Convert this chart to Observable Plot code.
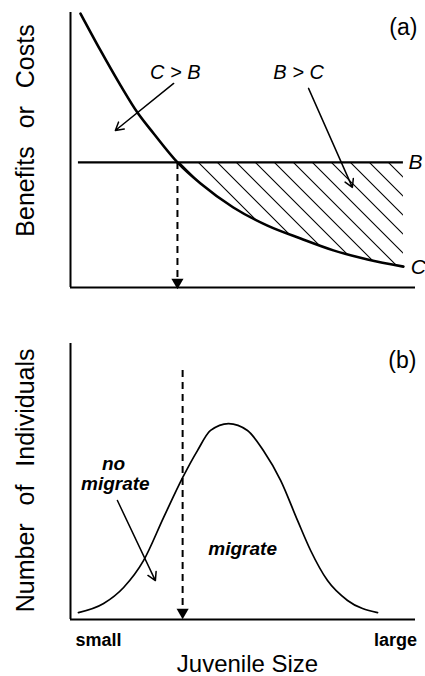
<!DOCTYPE html>
<html>
<head>
<meta charset="utf-8">
<script src="https://cdn.jsdelivr.net/npm/d3@7"></script>
<script src="https://cdn.jsdelivr.net/npm/@observablehq/plot@0.6"></script>
<style>
  html, body { margin: 0; padding: 0; background: #fff; }
  #chart { width: 425px; height: 676px; position: relative; }
  #chart svg { display: block; }
</style>
</head>
<body>
<div id="chart"></div>
<script>
// ---- Panel (a): benefits vs costs of migrating, by juvenile size ----
const sizeC = [2.9, 8.7, 14.5, 19.4, 24.1, 31.0, 37.7, 47.2, 57.1, 66.7, 76.2, 86.1, 96.5];
const costC = [99.6, 86.2, 73.5, 63.6, 56.0, 45.5, 37.8, 29.1, 22.5, 17.8, 13.5, 10.2, 7.6];
const benefitB = 45.5;
const benefitSpan = [2.3, 96.5];
const thresholdA = 31.0;

// ---- Panel (b): size distribution of juveniles ----
const sizeN = [2.3, 9.6, 15.4, 21.2, 27.0, 32.5, 36.8, 40.6, 45.8, 51.3, 55.9, 60.9, 65.8, 69.6, 74.5, 80.3, 89.0];
const countN = [2.5, 5.8, 11.6, 21.4, 37.0, 51.4, 61.2, 68.5, 71.0, 68.5, 61.2, 50.4, 35.9, 25.0, 14.1, 6.9, 2.5];
const thresholdB = 32.5;

// ---- Text ----
const yTitleA = "Benefits or Costs";
const yTitleB = "Number of Individuals";
const xTitle = "Juvenile Size";
const xEndLabels = ["small", "large"];
const panelLabels = ["(a)", "(b)"];

const costRows = sizeC.map((s, i) => ({size: s, cost: costC[i], benefit: benefitB}));
const hatchRows = costRows.filter(d => d.size >= thresholdA);
const countRows = sizeN.map((s, i) => ({size: s, count: countN[i]}));

const FONT = "'Liberation Sans', Arial, Helvetica, sans-serif";

const plotA = Plot.plot({
  width: 425, height: 300,
  marginLeft: 70, marginRight: 10, marginTop: 12, marginBottom: 13,
  x: {domain: [0, 100], axis: null},
  y: {domain: [0, 100], axis: null},
  style: {fontFamily: FONT, background: "#fff", color: "#000", overflow: "visible"},
  marks: [
    Plot.areaY(hatchRows, {x: "size", y1: "cost", y2: "benefit", fill: "url(#hatch)", curve: "monotone-x"}),
    Plot.ruleX([0], {y1: 0, y2: 100, stroke: "#000", strokeWidth: 2}),
    Plot.ruleY([0], {x1: 0, x2: 100, stroke: "#000", strokeWidth: 2}),
    Plot.ruleY([benefitB], {x1: benefitSpan[0], x2: benefitSpan[1], stroke: "#000", strokeWidth: 2.2}),
    Plot.line(costRows, {x: "size", y: "cost", stroke: "#000", strokeWidth: 2.6, curve: "monotone-x"}),
    Plot.ruleX([thresholdA], {y1: benefitB, y2: 3, stroke: "#000", strokeWidth: 2, strokeDasharray: "7,5"}),
    Plot.dot([thresholdA], {x: d => d, y: 1.9, symbol: "triangle", rotate: 180, r: 4.5, fill: "#000", stroke: null}),
    Plot.arrow([0], {x1: 29.9, y1: 74.2, x2: 13.0, y2: 57.1, stroke: "#000", strokeWidth: 1.5, headLength: 9}),
    Plot.arrow([0], {x1: 69.0, y1: 72.4, x2: 81.7, y2: 36.4, stroke: "#000", strokeWidth: 1.5, headLength: 9}),
    Plot.text(["C > B"], {x: 30.4, y: 78.3, fontSize: 20, fontStyle: "italic", fill: "#000"}),
    Plot.text(["B > C"], {x: 66.1, y: 78.3, fontSize: 20, fontStyle: "italic", fill: "#000"}),
    Plot.text(["B"], {x: 98.0, y: benefitB, fontSize: 21, fontStyle: "italic", textAnchor: "start", fill: "#000"}),
    Plot.text(["C"], {x: 98.6, y: 7.3, fontSize: 21, fontStyle: "italic", textAnchor: "start", fill: "#000"}),
    Plot.text([panelLabels[0]], {x: 96.5, y: 94.5, fontSize: 23, fill: "#000"}),
    Plot.text([yTitleA], {y: 57.1, frameAnchor: "left", dx: -37, rotate: -90, fontSize: 25, textAnchor: "middle", lineAnchor: "bottom", fill: "#000"})
  ]
});

const plotB = Plot.plot({
  width: 425, height: 376,
  marginLeft: 70, marginRight: 10, marginTop: 43, marginBottom: 57,
  x: {domain: [0, 100], axis: null},
  y: {domain: [0, 100], axis: null},
  style: {fontFamily: FONT, background: "#fff", color: "#000", overflow: "visible"},
  marks: [
    Plot.ruleX([0], {y1: 0, y2: 100, stroke: "#000", strokeWidth: 2}),
    Plot.ruleY([0], {x1: 0, x2: 100, stroke: "#000", strokeWidth: 2}),
    Plot.line(countRows, {x: "size", y: "count", stroke: "#000", strokeWidth: 1.7, curve: "monotone-x"}),
    Plot.ruleX([thresholdB], {y1: 90.2, y2: 4.5, stroke: "#000", strokeWidth: 2, strokeDasharray: "7,5"}),
    Plot.dot([thresholdB], {x: d => d, y: 2.6, symbol: "triangle", rotate: 180, r: 4.5, fill: "#000", stroke: null}),
    Plot.arrow([0], {x1: 13.6, y1: 43.1, x2: 24.6, y2: 14.1, stroke: "#000", strokeWidth: 1.5, headLength: 9}),
    Plot.text(["no"], {x: 12.5, y: 56.3, fontSize: 19, fontStyle: "italic", fontWeight: "bold", fill: "#000"}),
    Plot.text(["migrate"], {x: 13.0, y: 49.3, fontSize: 19, fontStyle: "italic", fontWeight: "bold", fill: "#000"}),
    Plot.text(["migrate"], {x: 49.9, y: 25.7, fontSize: 19, fontStyle: "italic", fontWeight: "bold", fill: "#000"}),
    Plot.text([panelLabels[1]], {x: 96.2, y: 93.8, fontSize: 23, fill: "#000"}),
    Plot.text([xEndLabels[0]], {x: 8.1, y: -7.6, fontSize: 18, fontWeight: "bold", fill: "#000"}),
    Plot.text([xEndLabels[1]], {x: 94.2, y: -7.6, fontSize: 18, fontWeight: "bold", fill: "#000"}),
    Plot.text([xTitle], {x: 51.3, y: -16.3, fontSize: 24, fill: "#000"}),
    Plot.text([yTitleB], {y: 50.4, frameAnchor: "left", dx: -37, rotate: -90, fontSize: 25, textAnchor: "middle", lineAnchor: "bottom", fill: "#000"})
  ]
});

// hatch pattern for the B > C region
const defs = d3.select(plotA).insert("defs", ":first-child");
const pat = defs.append("pattern")
  .attr("id", "hatch")
  .attr("patternUnits", "userSpaceOnUse")
  .attr("width", 19).attr("height", 19)
  .attr("patternTransform", "translate(17,0)");
pat.append("path")
  .attr("d", "M0,0L19,19M-5,14L5,24M14,-5L24,5")
  .attr("stroke", "#000").attr("stroke-width", 1.1).attr("fill", "none");

// wide word spacing of the rotated axis titles
for (const svg of [plotA, plotB]) {
  d3.select(svg).selectAll("text")
    .filter(function () { return this.textContent === yTitleA || this.textContent === yTitleB; })
    .style("word-spacing", "11px");
}

const root = document.getElementById("chart");
root.appendChild(plotA);
root.appendChild(plotB);
</script>
</body>
</html>
